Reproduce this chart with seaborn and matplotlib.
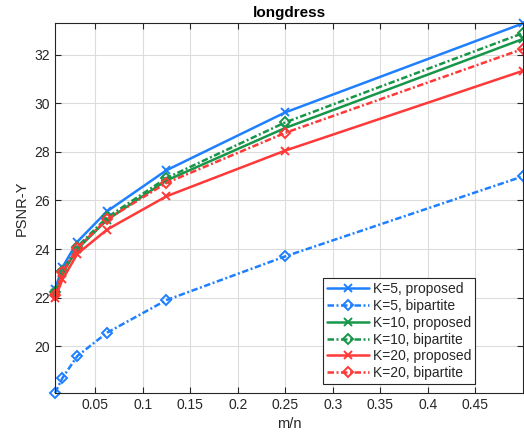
import matplotlib
matplotlib.use("Agg")
import matplotlib.pyplot as plt
import seaborn as sns
import pandas as pd
import numpy as np

# Data
m_over_n = [1/128, 1/64, 1/32, 1/16, 1/8, 1/4, 1/2]
k5_proposed = [22.35, 23.25, 24.30, 25.55, 27.24, 29.62, 33.28]
k5_bipartite = [18.08, 18.70, 19.60, 20.56, 21.90, 23.70, 26.99]
k10_proposed = [22.20, 23.00, 24.00, 25.20, 26.82, 28.98, 32.64]
k10_bipartite = [22.25, 23.10, 24.10, 25.30, 26.92, 29.21, 32.88]
k20_proposed = [21.97, 22.75, 23.80, 24.80, 26.17, 28.05, 31.33]
k20_bipartite = [22.12, 23.05, 24.05, 25.22, 26.72, 28.78, 32.23]

series_labels = ["K=5, proposed", "K=5, bipartite", "K=10, proposed",
                 "K=10, bipartite", "K=20, proposed", "K=20, bipartite"]
series_values = [k5_proposed, k5_bipartite, k10_proposed, k10_bipartite,
                 k20_proposed, k20_bipartite]
x_ticks = [0.05, 0.1, 0.15, 0.2, 0.25, 0.3, 0.35, 0.4, 0.45]
x_tick_labels = ["0.05", "0.1", "0.15", "0.2", "0.25", "0.3", "0.35", "0.4", "0.45"]
y_ticks = [20, 22, 24, 26, 28, 30, 32]

sns.set_theme(style="whitegrid")
plt.rcParams["font.family"] = ["Liberation Sans", "DejaVu Sans"]

colors = ["#1F80FF", "#1F80FF", "#17964A", "#17964A", "#FF3838", "#FF3838"]

fig = plt.figure(figsize=(5.24, 4.38), dpi=100)
ax = fig.add_axes([0.105, 0.1027, 0.893, 0.845])

for i, (lab, vals) in enumerate(zip(series_labels, series_values)):
    df = pd.DataFrame({"x": m_over_n, "y": vals})
    proposed = "proposed" in lab
    kw = dict(color=colors[i], label=lab,
              marker="x" if proposed else "D",
              markersize=5.5 if proposed else 5.5,
              markerfacecolor=colors[i] if proposed else "none",
              markeredgecolor=colors[i], markeredgewidth=1.4,
              linewidth=1.8, clip_on=False)
    if proposed:
        kw["linestyle"] = "-"
    else:
        kw["dashes"] = [2.6, 1.0, 0.8, 1.0]
    sns.lineplot(data=df, x="x", y="y", ax=ax, **kw)

ax.set_xlim(1/128, 0.5)
ax.set_ylim(18.08, 33.3)
ax.set_xticks(x_ticks)
ax.set_xticklabels(x_tick_labels)
ax.set_yticks(y_ticks)
ax.set_xlabel("m/n", fontsize=10.5, color="#262626")
ax.set_ylabel("PSNR-Y", fontsize=10.5, color="#262626")
ax.set_title("longdress", fontsize=11, fontweight="bold", color="#000000", pad=4)

ax.set_facecolor("white")
ax.grid(True, color="#DCDCDC", linewidth=0.8)
for sp in ax.spines.values():
    sp.set_visible(True)
    sp.set_color("#262626")
    sp.set_linewidth(0.8)
ax.tick_params(axis="both", which="both", direction="in", length=4, width=0.8,
               colors="#262626", labelsize=10, top=True, right=True,
               bottom=True, left=True, labelcolor="#262626")

leg = ax.legend(loc="lower right", bbox_to_anchor=(0.913, 0.005), fontsize=10,
                frameon=True, fancybox=False, edgecolor="#262626",
                framealpha=1, borderpad=0.3, labelspacing=0.2,
                handlelength=3.0, handletextpad=0.3)
leg.get_frame().set_linewidth(0.8)
leg.set_zorder(10)

fig.savefig("out.png", dpi=100)
